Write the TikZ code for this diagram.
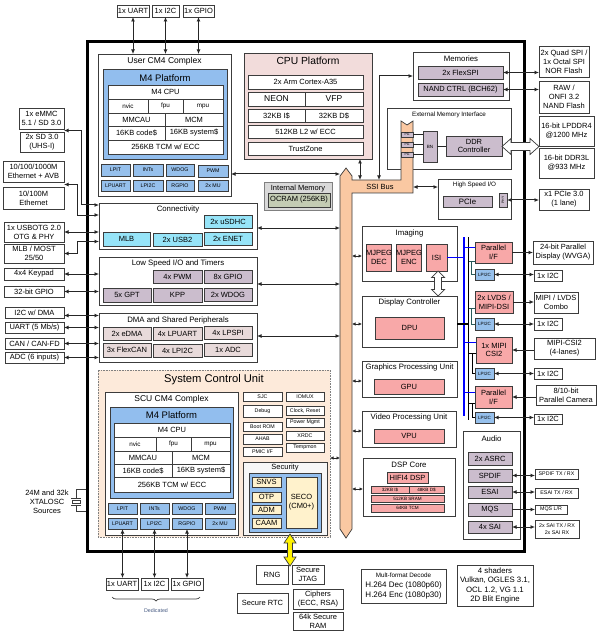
\documentclass[tikz,border=0pt]{standalone}
\usepackage{fontspec}
\setmainfont{Liberation Sans}
\usetikzlibrary{arrows.meta,decorations.pathreplacing}
\definecolor{bord}{RGB}{60,60,60}
\definecolor{mblue}{RGB}{146,190,238}
\definecolor{pblue}{RGB}{150,192,236}
\definecolor{cyanb}{RGB}{150,228,248}
\definecolor{mauve}{RGB}{203,189,205}
\definecolor{dmapink}{RGB}{232,218,218}
\definecolor{cpupink}{RGB}{242,220,219}
\definecolor{salmon}{RGB}{248,168,168}
\definecolor{peach}{RGB}{253,234,218}
\definecolor{ssi}{RGB}{250,200,162}
\definecolor{imgray}{RGB}{217,217,217}
\definecolor{ocram}{RGB}{196,204,180}
\definecolor{secy}{RGB}{255,242,204}
\definecolor{busblue}{RGB}{0,0,255}
\definecolor{tealln}{RGB}{40,90,90}
\definecolor{dedic}{RGB}{70,90,130}
\newcommand\fsBody{\fontsize{7.5}{8.9}\selectfont}
\newcommand\fsSec{\fontsize{7.8}{9}\selectfont}
\newcommand\fsTitle{\fontsize{8.5}{10}\selectfont}
\newcommand\fsBig{\fontsize{9.5}{11}\selectfont}
\newcommand\fsCpu{\fontsize{10.3}{12}\selectfont}
\newcommand\fsHuge{\fontsize{11.2}{13}\selectfont}
\newcommand\fsSmall{\fontsize{6.3}{7.4}\selectfont}
\newcommand\fsTiny{\fontsize{5.3}{6.3}\selectfont}
\newcommand\fsMicro{\fontsize{4.6}{5.4}\selectfont}
\newcommand\fsNano{\fontsize{3.4}{4}\selectfont}
\newcommand\bx[7][]{\node[box,#1,anchor=north west,minimum width={#4pt-#2pt},minimum height={#5pt-#3pt}] (#6) at (#2,#3) {#7};}
\begin{document}
\begin{tikzpicture}[x=1pt,y=-1pt,
 box/.style={draw=bord,line width=0.7pt,inner sep=0pt,outer sep=0pt,align=center,font=\fsBody,text=black},
 ln/.style={draw=black!85,line width=1pt},
 darr/.style={ln,{Latex[length=4.5pt,width=4pt]}-{Latex[length=4.5pt,width=4pt]}},
 rarr/.style={ln,-{Latex[length=4.5pt,width=4pt]}},
 sarr/.style={ln,{Latex[length=3.5pt,width=3.5pt]}-{Latex[length=3.5pt,width=3.5pt]}},
 ttl/.style={inner sep=0pt,font=\fsSec,align=center}]
\useasboundingbox (0,0) rectangle (603,636);
\fill[white] (0,0) rectangle (603,636);

% chip outline
\bx[line width=3pt,draw=black]{87.5}{42}{524.5}{551.5}{chip}{}

% top external
\bx{117}{5}{149}{17}{tuart}{1x UART}
\bx{152}{5}{179}{17}{ti2c}{1x I2C}
\bx{183}{5}{214}{17}{tgpio}{1x GPIO}

% User CM4 complex
\bx{98}{54}{231}{196}{ucm}{}
\node[ttl,font=\fsTitle] (ucmt) at (164.5,61.5) {User CM4 Complex};
\bx[fill=mblue]{103}{69}{227}{159}{ump}{}
\node[ttl,font=\fsBig] (umpt) at (165,78) {M4 Platform};
\bx[fill=white]{108}{85}{223}{99}{ucpu}{M4 CPU}
\bx[fill=white,font=\fsSmall]{108}{99}{148}{113}{unvic}{nvic}
\bx[fill=white,font=\fsSmall]{148}{99}{183}{113}{ufpu}{fpu}
\bx[fill=white,font=\fsSmall]{183}{99}{223}{113}{umpu}{mpu}
\bx[fill=white]{108}{113}{165}{126}{ummc}{MMCAU}
\bx[fill=white]{165}{113}{223}{126}{umcm}{MCM}
\bx[fill=white]{108}{126}{165}{140}{ucode}{16KB code\$}
\bx[fill=white]{165}{126}{223}{140}{usys}{16KB system\$}
\bx[fill=white]{108}{140}{223}{154}{utcm}{256KB TCM w/ ECC}
\bx[fill=pblue,font=\fsTiny]{101}{164}{130}{176}{ulpit}{LPIT}
\bx[fill=pblue,font=\fsTiny]{133}{164}{163}{176}{uints}{INTs}
\bx[fill=pblue,font=\fsTiny]{166}{164}{194}{176}{uwdog}{WDOG}
\bx[fill=pblue,font=\fsTiny]{198}{165}{228}{177}{upwm}{PWM}
\bx[fill=pblue,font=\fsTiny]{101}{180}{130}{191}{ulpuart}{LPUART}
\bx[fill=pblue,font=\fsTiny]{133}{180}{163}{191}{ulpi2c}{LPI2C}
\bx[fill=pblue,font=\fsTiny]{166}{180}{194}{191}{urgpio}{RGPIO}
\bx[fill=pblue,font=\fsTiny]{198}{180}{228}{191}{umu}{2x MU}
\draw[darr] (tuart.south) -- (tuart.south |- ucm.north);
\draw[darr] (ti2c.south) -- (ti2c.south |- ucm.north);
\draw[darr] (tgpio.south) -- (tgpio.south |- ucm.north);

% CPU platform
\bx[fill=cpupink]{244}{53}{372}{159}{cpup}{}
\node[ttl,font=\fsCpu] (cpupt) at (308,61) {CPU Platform};
\bx[fill=white]{248}{75}{363}{89}{ca35}{2x Arm Cortex-A35}
\bx[fill=white,font=\fsTitle]{248}{92}{305}{106}{neon}{NEON}
\bx[fill=white,font=\fsTitle]{305}{92}{363}{106}{vfp}{VFP}
\bx[fill=white]{248}{109}{305}{122}{ci}{32KB I\$}
\bx[fill=white]{305}{109}{363}{122}{cd}{32KB D\$}
\bx[fill=white]{248}{125}{363}{138}{cl2}{512KB L2 w/ ECC}
\bx[fill=white]{248}{142}{363}{155}{ctz}{TrustZone}

% Memories
\bx{413}{52}{509}{100}{mem}{}
\node[ttl] (memt) at (461,58.5) {Memories};
\bx[fill=mauve]{418}{66}{503}{79}{flexspi}{2x FlexSPI}
\bx[fill=mauve]{418}{83}{503}{96}{nand}{NAND CTRL (BCH62)}

% right external top
\bx{539}{46}{589}{77}{qspi}{2x Quad SPI /\\1x Octal SPI\\NOR Flash}
\bx{539}{81}{589}{113}{raw}{RAW /\\ONFI 3.2\\NAND Flash}
\bx{539}{116}{594}{146}{lpddr}{16-bit LPDDR4\\@1200 MHz}
\bx{539}{148}{594}{178}{ddr3}{16-bit DDR3L\\@933 MHz}
\bx{539}{189}{589}{210}{pcie3}{x1 PCIe 3.0\\(1 lane)}
\draw[darr] (flexspi.east) -- (flexspi.east -| qspi.west);
\draw[darr] (nand.east) -- (nand.east -| raw.west);

% External memory interface
\bx{387}{108}{511}{169}{emi}{}
\node[ttl,font=\fsSmall] (emit) at (449,115) {External Memory Interface};

% SSI bus shape
\draw[draw=bord,line width=0.7pt,fill=ssi] (340,529) -- (340,176) -- (346,168) -- (352,176) -- (352,180) -- (401,180) -- (401,121) -- (407,125) -- (413,121) -- (413,193) -- (352,193) -- (352,529) -- (346,538) -- cycle;
\node[ttl,font=\fsBody] (ssit) at (380,187) {SSI Bus};
\coordinate (spL) at (340,300);
\coordinate (spR) at (352,300);

\bx[fill=mauve,font=\fsNano]{401}{132}{413}{137}{pg1}{PG}
\bx[fill=mauve,font=\fsNano]{401}{142}{413}{147}{pg2}{PG}
\bx[fill=mauve,font=\fsNano]{401}{152}{413}{157}{pg3}{PG}
\bx[fill=mauve,font=\fsMicro]{423}{131}{437}{162}{bn}{BN}
\bx[fill=mauve]{446}{136}{502}{156}{ddrc}{DDR\\Controller}
\draw[ln,line width=0.8pt] (pg1.east) -- (pg1.east -| bn.west);
\draw[ln,line width=0.8pt] (pg2.east) -- (pg2.east -| bn.west);
\draw[ln,line width=0.8pt] (pg3.east) -- (pg3.east -| bn.west);
\draw[ln,line width=0.8pt] (bn.east |- ddrc.west) -- (ddrc.west);
\draw[bord,line width=0.7pt,fill=white] (502,146.5) -- (511,138.5) -- (511,142.5) -- (530,142.5) -- (530,138.5) -- (539,146.5) -- (530,154.5) -- (530,150.5) -- (511,150.5) -- (511,154.5) -- cycle;

% High speed IO
\bx{438}{179}{511}{219}{hsio}{}
\node[ttl,font=\fsSmall] (hsiot) at (474.5,185) {High Speed I/O};
\bx[fill=mauve,font=\fsSec]{443}{196}{492}{207}{pcie}{PCIe}
\bx[fill=mauve]{499}{193}{507}{207}{phy}{}
\node[rotate=90,inner sep=0pt,font=\fsNano] (phyt) at (phy.center) {PHY};
\draw[darr] (phy.east) -- (phy.east -| pcie3.west);
\coordinate (ssiR) at (413,187);
\draw[darr] (ssiR) -- (ssiR -| hsio.west);

% CPU and memories to SSI
\coordinate (ssiC) at (360,180);
\coordinate (ssiM) at (379,180);
\draw[darr] (cpup.south -| ssiC) -- (ssiC);
\draw[darr] (mem.west) -| (ssiM);

% internal memory
\bx[draw=gray,fill=imgray]{264}{182}{332}{210}{imem}{}
\node[ttl,font=\fsBody] (imemt) at (298,188.5) {Internal Memory};
\bx[fill=ocram]{268}{193}{330}{207}{ocr}{OCRAM (256KB)}

\draw[darr] (ucm.east |- 0,174) -- (spL |- 0,174);

% Connectivity
\bx{99}{203}{257}{249}{conn}{}
\node[ttl] (connt) at (178,209.5) {Connectivity};
\bx[fill=cyanb]{204}{215}{252}{228}{usdhc}{2x uSDHC}
\bx[fill=cyanb]{103}{232}{150}{246}{mlb}{MLB}
\bx[fill=cyanb]{153}{233}{202}{246}{usb2}{2x USB2}
\bx[fill=cyanb]{204}{232}{252}{245}{enet}{2x ENET}

% Low speed
\bx{99}{257}{257}{305}{lsio}{}
\node[ttl] (lsiot) at (178,263.5) {Low Speed I/O and Timers};
\bx[fill=mauve]{153}{270}{202}{283}{lpwm}{4x PWM}
\bx[fill=mauve]{204}{270}{252}{283}{lgpio}{8x GPIO}
\bx[fill=mauve]{103}{288}{151}{302}{lgpt}{5x GPT}
\bx[fill=mauve]{153}{288}{202}{302}{lkpp}{KPP}
\bx[fill=mauve]{204}{288}{252}{301}{lwdog}{2x WDOG}

% DMA
\bx{99}{313}{257}{362}{dma}{}
\node[ttl] (dmat) at (178,320) {DMA and Shared Peripherals};
\bx[fill=dmapink]{103}{327}{151}{340}{edma}{2x eDMA}
\bx[fill=dmapink]{153}{327}{202}{340}{dlpuart}{4x LPUART}
\bx[fill=dmapink]{204}{326}{252}{339}{dlpspi}{4x LPSPI}
\bx[fill=dmapink]{103}{343}{151}{357}{dcan}{3x FlexCAN}
\bx[fill=dmapink]{153}{344}{202}{357}{dlpi2c}{4x LPI2C}
\bx[fill=dmapink]{204}{343}{252}{356}{dadc}{1x ADC}

\draw[darr] (conn.east |- 0,228) -- (spL |- 0,228);
\draw[darr] (lsio.east |- 0,284) -- (spL |- 0,284);
\draw[darr] (dma.east |- 0,336) -- (spL |- 0,336);

% left external
\bx{19}{108}{64}{129}{emmc}{1x eMMC\\5.1 / SD 3.0}
\bx{20}{132}{64}{152}{sd}{2x SD 3.0\\(UHS-I)}
\bx{3}{161}{64}{182}{eth1}{10/100/1000M\\Ethernet + AVB}
\bx{3}{187}{64}{209}{eth2}{10/100M\\Ethernet}
\bx{4}{222}{64}{242}{usb}{1x USBOTG 2.0\\OTG \& PHY}
\bx{4}{244}{64}{263}{mlbx}{MLB / MOST\\25/50}
\bx{4}{268}{64}{280}{keyp}{4x4 Keypad}
\bx{4}{286}{64}{297}{gp32}{32-bit GPIO}
\bx{5}{307}{64}{318}{i2cd}{I2C w/ DMA}
\bx{5}{322}{64}{333}{uart5}{UART (5 Mb/s)}
\bx{5}{338}{64}{349}{canx}{CAN / CAN-FD}
\bx{5}{352}{64}{363}{adc6}{ADC (6 inputs)}
\coordinate (emj) at (64,130.5);
\coordinate (ethj) at (64,184.5);
\draw[darr] (emj) -| (81,205) -- (conn.west |- 0,205);
\draw[darr] (ethj) -| (77,215) -- (conn.west |- 0,215);
\draw[darr] (usb.east) -- (usb.east -| conn.west);
\draw[darr] (mlbx.east) -| (77,241.5) -- (conn.west |- 0,241.5);
\draw[darr] (keyp.east) -- (keyp.east -| lsio.west);
\draw[darr] (gp32.east) -- (gp32.east -| lsio.west);
\draw[darr] ([yshift=-3pt]i2cd.east) -- ([yshift=-3pt]i2cd.east -| dma.west);
\draw[darr] (uart5.east) -- (uart5.east -| dma.west);
\draw[darr] (canx.east) -- (canx.east -| dma.west);
\draw[darr] (adc6.east) -- (adc6.east -| dma.west);

% System Control Unit
\bx[draw=gray,dash pattern=on 0.8pt off 0.8pt,fill=peach]{98}{370}{330}{537}{scu}{}
\node[ttl,font=\fsHuge] (scut) at (214,379.5) {System Control Unit};
\bx[fill=white]{105}{392}{238}{535}{scm}{}
\node[ttl,font=\fsTitle] (scmt) at (171.5,399) {SCU CM4 Complex};
\bx[fill=mblue]{110}{407}{233}{498}{smp}{}
\node[ttl,font=\fsBig] (smpt) at (171.5,415.5) {M4 Platform};
\bx[fill=white]{114}{423}{230}{437}{scpu}{M4 CPU}
\bx[fill=white,font=\fsSmall]{114}{437}{156}{451}{snvic}{nvic}
\bx[fill=white,font=\fsSmall]{156}{437}{191}{451}{sfpu}{fpu}
\bx[fill=white,font=\fsSmall]{191}{437}{230}{451}{smpu}{mpu}
\bx[fill=white]{114}{451}{172}{464}{smmc}{MMCAU}
\bx[fill=white]{172}{451}{230}{464}{smcm}{MCM}
\bx[fill=white]{114}{464}{172}{477}{scode}{16KB code\$}
\bx[fill=white]{172}{464}{230}{477}{ssys}{16KB system\$}
\bx[fill=white]{114}{477}{230}{492}{stcm}{256KB TCM w/ ECC}
\bx[fill=pblue,font=\fsTiny]{108}{503}{137}{514}{slpit}{LPIT}
\bx[fill=pblue,font=\fsTiny]{140}{503}{169}{514}{sints}{INTs}
\bx[fill=pblue,font=\fsTiny]{172}{503}{202}{514}{swdog}{WDOG}
\bx[fill=pblue,font=\fsTiny]{205}{503}{235}{514}{spwm}{PWM}
\bx[fill=pblue,font=\fsTiny]{108}{518}{137}{529}{slpuart}{LPUART}
\bx[fill=pblue,font=\fsTiny]{140}{518}{169}{529}{slpi2c}{LPI2C}
\bx[fill=pblue,font=\fsTiny]{172}{518}{202}{529}{srgpio}{RGPIO}
\bx[fill=pblue,font=\fsTiny]{205}{518}{235}{529}{smu}{2x MU}

% SCU small blocks
\bx[fill=white,font=\fsTiny]{243}{392}{282}{401}{sjc}{SJC}
\bx[fill=white,font=\fsTiny]{286}{392}{324}{401}{iomux}{IOMUX}
\bx[fill=white,font=\fsTiny]{243}{405}{282}{417}{dbg}{Debug}
\bx[fill=white,font=\fsTiny]{286}{406}{324}{415}{clkr}{Clock, Reset}
\bx[fill=white,font=\fsTiny]{243}{422}{282}{431}{brom}{Boot ROM}
\bx[fill=white,font=\fsTiny]{286}{418}{324}{427}{pwr}{Power Mgmt}
\bx[fill=white,font=\fsTiny]{243}{434}{282}{444}{ahab}{AHAB}
\bx[fill=white,font=\fsTiny]{286}{431}{324}{440}{xrdc}{XRDC}
\bx[fill=white,font=\fsTiny]{243}{447}{282}{456}{pmic}{PMIC I/F}
\bx[fill=white,font=\fsTiny]{286}{443}{324}{452}{tmon}{Tempmon}

% Security
\bx[fill=gray!6]{243}{462}{327}{535}{sec}{}
\node[ttl,font=\fsBody] (sect) at (285,468) {Security};
\bx[fill=mblue]{249}{473}{321}{532}{secb}{}
\bx[fill=secy]{252}{477}{281}{487}{snvs}{SNVS}
\bx[fill=secy]{252}{492}{281}{502}{otp}{OTP}
\bx[fill=secy]{252}{505}{281}{514}{adm}{ADM}
\bx[fill=secy]{252}{518}{281}{528}{caam}{CAAM}
\bx[fill=secy]{286}{477}{317}{528}{seco}{SECO\\(CM0+)}
\draw[bord,line width=0.7pt,fill=yellow] (290,534) -- (296,543) -- (292.5,543) -- (292.5,557) -- (296,557) -- (290,566) -- (284,557) -- (287.5,557) -- (287.5,543) -- (284,543) -- cycle;

\draw[sarr] (scu.east |- 0,458) -- (spL |- 0,458);

% bottom secure boxes
\bx{256}{565}{288}{584}{rng}{RNG}
\bx{292}{565}{324}{584}{sjtag}{Secure\\JTAG}
\bx{237}{593}{288}{613}{srtc}{Secure RTC}
\bx{293}{589}{343}{609}{ciph}{Ciphers\\(ECC, RSA)}
\bx{293}{612}{343}{630}{sram}{64k Secure\\RAM}

% bottom dedicated
\bx{106}{578}{138}{590}{buart}{1x UART}
\bx{141}{578}{168}{590}{bi2c}{1x I2C}
\bx{171}{578}{203}{590}{bgpio}{1x GPIO}
\draw[darr] (slpuart.south) -- (slpuart.south |- buart.north);
\draw[darr] (slpi2c.south) -- (slpi2c.south |- bi2c.north);
\draw[darr] (srgpio.south) -- (srgpio.south |- bgpio.north);
\draw[bord,line width=0.7pt,decorate,decoration={brace,amplitude=4pt,mirror}] (112,597) -- (200,597);
\node[ttl,font=\fsTiny,text=dedic] (dedt) at (156,611) {Dedicated};

% XTALOSC
\node[ttl,font=\fsBody,align=center] (xtal) at (47,501.5) {24M and 32k\\XTALOSC\\Sources};
\draw[bord,line width=0.8pt] (86,489) -- (76,489) -- (76,498);
\draw[bord,line width=0.8pt] (71,498) -- (81,498);
\draw[bord,line width=0.8pt] (72,500) rectangle (80,503);
\draw[bord,line width=0.8pt] (71,505) -- (81,505);
\draw[bord,line width=0.8pt] (76,505) -- (76,511.5) -- (86,511.5);

% multimedia
\bx{362}{226}{457}{281}{imgb}{}
\node[ttl] (imgt) at (409.5,233) {Imaging};
\bx[fill=salmon]{366}{244}{391}{271}{mdec}{MJPEG\\DEC}
\bx[fill=salmon]{396}{244}{421}{271}{menc}{MJPEG\\ENC}
\bx[fill=salmon]{426}{244}{447}{271}{isi}{ISI}
\bx{362}{296}{457}{347}{dcb}{}
\node[ttl] (dct) at (409.5,302.5) {Display Controller};
\bx[fill=salmon]{375}{317}{444}{339}{dpu}{DPU}
\draw[bord,line width=0.7pt,fill=white] (438,271) -- (444.5,277.5) -- (441.5,277.5) -- (441.5,289.5) -- (444.5,289.5) -- (438,296) -- (431.5,289.5) -- (434.5,289.5) -- (434.5,277.5) -- (431.5,277.5) -- cycle;
\bx{362}{361}{457}{397}{gpub}{}
\node[ttl] (gput) at (409.5,367.5) {Graphics Processing Unit};
\bx[fill=salmon]{374}{379}{444}{394}{gpu}{GPU}
\bx{362}{411}{456}{447}{vpub}{}
\node[ttl] (vput) at (409,417.5) {Video Processing Unit};
\bx[fill=salmon]{374}{429}{444}{443}{vpu}{VPU}
\bx{363}{458}{455}{516}{dspb}{}
\node[ttl] (dspt) at (409,464.5) {DSP Core};
\bx[fill=salmon]{387}{472}{428}{483}{hifi}{HIFI4 DSP}
\bx[fill=salmon,font=\fsMicro]{371}{486}{409}{493}{dsi}{32KB I\$}
\bx[fill=salmon,font=\fsMicro]{409}{486}{444}{493}{dsd}{48KB D\$}
\bx[fill=salmon,font=\fsMicro]{371}{495}{444}{502}{dsram}{512KB SRAM}
\bx[fill=salmon,font=\fsMicro]{371}{504}{444}{512}{dtcm}{64KB TCM}

\draw[sarr] (spR |- 0,256) -- (imgb.west |- 0,256);
\draw[sarr] (spR |- 0,324) -- (dcb.west |- 0,324);
\draw[sarr] (spR |- 0,381) -- (gpub.west |- 0,381);
\draw[sarr] (spR |- 0,431) -- (vpub.west |- 0,431);
\draw[sarr] (spR |- 0,489) -- (dspb.west |- 0,489);

% display / camera interfaces
\bx[fill=salmon]{475}{242}{512}{263}{pif1}{Parallel\\I/F}
\bx[fill=pblue,font=\fsMicro]{475}{269}{494}{280}{lpa}{LPI2C}
\bx[fill=salmon]{475}{291}{513}{313}{lvds}{2x LVDS /\\MIPI-DSI}
\bx[fill=pblue,font=\fsMicro]{475}{318}{494}{330}{lpb}{LPI2C}
\bx[fill=salmon]{476}{337}{512}{363}{csi}{1x MIPI\\CSI2}
\bx[fill=pblue,font=\fsMicro]{475}{368}{494}{379}{lpc}{LPI2C}
\bx[fill=salmon]{475}{386}{512}{408}{pif2}{Parallel\\I/F}
\bx[fill=pblue,font=\fsMicro]{475}{412}{494}{423}{lpd}{LPI2C}

\coordinate (bbus) at (464,237);
\coordinate (kbus) at (468.5,237);
\draw[busblue,line width=2pt] (bbus) -- (bbus |- 0,416);
\draw[black,line width=1.5pt] (kbus) -- (kbus |- 0,420);
\draw[busblue,line width=1.6pt] (isi.east) -- (isi.east -| bbus);
\draw[busblue,line width=1pt] (bbus |- 0,247) -- (pif1.west |- 0,247);
\draw[busblue,line width=1pt] (bbus |- 0,342) -- (csi.west |- 0,342);
\draw[busblue,line width=1pt] (bbus |- 0,392) -- (pif2.west |- 0,392);
\draw[tealln,line width=0.9pt] (kbus |- 0,261) -- (pif1.west |- 0,261);
\draw[tealln,line width=0.9pt] (471.5,261) |- (lpa.west);
\draw[tealln,line width=0.9pt] (kbus |- 0,308) -- (lvds.west |- 0,308);
\draw[tealln,line width=0.9pt] (471.5,308) |- (lpb.west);
\draw[black,line width=0.9pt] (kbus |- 0,353) -- (csi.west |- 0,353);
\draw[black,line width=0.9pt] (472,353) |- (lpc.west);
\draw[black,line width=0.9pt] (kbus |- 0,403) -- (pif2.west |- 0,403);
\draw[black,line width=0.9pt] (472,403) |- (lpd.west);
\draw[black,line width=2.5pt] (dcb.east |- 0,324) -- (kbus |- 0,324);

\bx{533}{241}{593}{264}{disp}{24-bit Parallel\\Display (WVGA)}
\bx{534}{270}{562}{281}{ia}{1x I2C}
\bx{534}{292}{578}{313}{lvdsx}{MIPI / LVDS\\Combo}
\bx{534}{318}{562}{330}{ib}{1x I2C}
\bx{534}{338}{595}{359}{csix}{MIPI-CSI2\\(4-lanes)}
\bx{534}{368}{562}{379}{ic}{1x I2C}
\bx{536}{385}{596}{405}{camx}{8/10-bit\\Parallel Camera}
\bx{534}{414}{562}{424}{id}{1x I2C}
\draw[rarr] (pif1.east) -- (pif1.east -| disp.west);
\draw[darr] (lpa.east) -- (lpa.east -| ia.west);
\draw[rarr] (lvds.east) -- (lvds.east -| lvdsx.west);
\draw[darr] (lpb.east) -- (lpb.east -| ib.west);
\draw[rarr] (csi.east -| csix.west) -- (csi.east);
\draw[darr] (lpc.east) -- (lpc.east -| ic.west);
\draw[rarr] (pif2.east -| camx.west) -- (pif2.east);
\draw[darr] (lpd.east) -- (lpd.east -| id.west);

% Audio
\bx{463}{431}{520}{539}{aud}{}
\node[ttl] (audt) at (491.5,439) {Audio};
\bx[fill=mauve]{468}{452}{512}{465}{asrc}{2x ASRC}
\bx[fill=mauve]{468}{469}{512}{482}{spdif}{SPDIF}
\bx[fill=mauve]{468}{486}{512}{498}{esai}{ESAI}
\bx[fill=mauve]{468}{503}{512}{516}{mqs}{MQS}
\bx[fill=mauve]{468}{521}{512}{533}{sai}{4x SAI}
\bx[font=\fsTiny]{535}{469}{578}{479}{spdifx}{SPDIF TX / RX}
\bx[font=\fsTiny]{535}{488}{578}{498}{esaix}{ESAI TX / RX}
\bx[font=\fsTiny]{535}{505}{567}{514}{mqsx}{MQS L/R}
\bx[font=\fsTiny]{535}{520}{579}{538}{saix}{2x SAI TX / RX\\2x SAI RX}
\draw[darr] (spdif.east) -- (spdif.east -| spdifx.west);
\draw[darr] (esai.east) -- (esai.east -| esaix.west);
\draw[rarr] (mqs.east) -- (mqs.east -| mqsx.west);
\draw[darr] (sai.east) -- (sai.east -| saix.west);

% bottom notes
\node[box,anchor=north west,minimum width=85pt,minimum height=34pt,font=\fontsize{8}{9.6}\selectfont] (mfd) at (361,569) {{\fsSmall Mult-format Decode}\\H.264 Dec (1080p60)\\H.264 Enc (1080p30)};
\node[box,anchor=north west,minimum width=76pt,minimum height=41pt,font=\fontsize{7.8}{9.6}\selectfont] (shd) at (457,565) {4 shaders\\Vulkan, OGLES 3.1,\\OCL 1.2, VG 1.1\\2D Blit Engine};
\end{tikzpicture}
\end{document}
